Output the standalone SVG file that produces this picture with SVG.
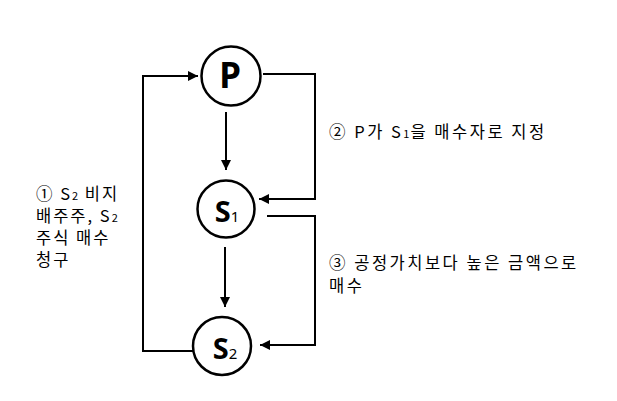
<svg xmlns="http://www.w3.org/2000/svg" width="617" height="401" viewBox="0 0 617 401">
<style>
.node{fill:#fff;stroke:#000;stroke-width:2.5}
.nl{font-family:"Noto Sans","Noto Sans CJK KR",sans-serif;font-weight:bold;fill:#000;text-anchor:middle}
.sub{font-size:15px;font-weight:normal}
.edge{fill:none;stroke:#000;stroke-width:2}
.lbl{font-family:"Noto Sans CJK KR","Noto Sans",sans-serif;font-size:16.5px;letter-spacing:2.5px;fill:#000}
.ll{letter-spacing:2px}
.ls{font-size:11px;letter-spacing:1px}
</style>
<defs>
<marker id="ah" viewBox="0 0 10 10" refX="10" refY="5" markerWidth="5" markerHeight="5" orient="auto" markerUnits="strokeWidth">
<path d="M0,0 L10,5 L0,10 z" fill="#000"/>
</marker>
</defs>
<rect width="617" height="401" fill="#fff"/>
<g id="connectors">
<path class="edge" d="M226,112 V170" marker-end="url(#ah)"/>
<path class="edge" d="M225,247 V307" marker-end="url(#ah)"/>
<path class="edge" d="M193,351 H143 V76 H198" marker-end="url(#ah)"/>
<path class="edge" d="M263,74 H315 V199 H259" marker-end="url(#ah)"/>
<path class="edge" d="M267,216 H315 V345 H260" marker-end="url(#ah)"/>
</g>
<g id="P">
<circle class="node" cx="231" cy="76" r="29.5"/>
<text class="nl" x="230" y="88" font-size="35">P</text>
</g>
<g id="S1">
<circle class="node" cx="226" cy="209" r="28.5"/>
<text class="nl" x="227" y="222" font-size="29">S<tspan class="sub">1</tspan></text>
</g>
<g id="S2">
<circle class="node" cx="222" cy="346" r="29"/>
<text class="nl" x="225" y="359" font-size="29">S<tspan class="sub">2</tspan></text>
</g>
<g id="labels">
<text class="lbl" x="329" y="138">② P가 S<tspan class="ls">1</tspan>을 매수자로 지정</text>
<text class="lbl" x="329" y="269">③ 공정가치보다 높은 금액으로</text>
<text class="lbl" x="329" y="292">매수</text>
<text class="lbl ll" x="36" y="200">① S<tspan class="ls">2</tspan> 비지</text>
<text class="lbl ll" x="36" y="222">배주주, S<tspan class="ls">2</tspan></text>
<text class="lbl ll" x="36" y="244">주식 매수</text>
<text class="lbl ll" x="36" y="266">청구</text>
</g>
</svg>
